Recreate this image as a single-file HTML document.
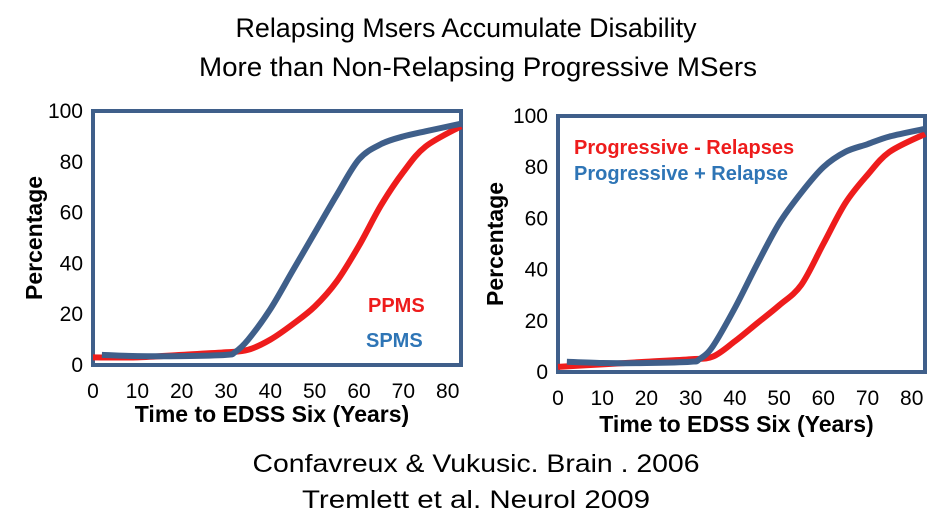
<!DOCTYPE html>
<html><head><meta charset="utf-8"><style>
html,body{margin:0;padding:0;background:#fff;}
svg{display:block;font-family:"Liberation Sans",sans-serif;}
</style></head><body>
<svg id="s" width="952" height="525" viewBox="0 0 952 525">
<text x="466" y="37" font-size="27" text-anchor="middle" textLength="461" lengthAdjust="spacingAndGlyphs">Relapsing Msers Accumulate Disability</text>
<text x="478" y="76" font-size="27" text-anchor="middle" textLength="558" lengthAdjust="spacingAndGlyphs">More than Non-Relapsing Progressive MSers</text>
<text x="476" y="472" font-size="25" text-anchor="middle" textLength="447" lengthAdjust="spacingAndGlyphs">Confavreux &amp; Vukusic. Brain . 2006</text>
<text x="476" y="508" font-size="25" text-anchor="middle" textLength="348" lengthAdjust="spacingAndGlyphs">Tremlett et al. Neurol 2009</text>
<g id="c1"></g>
<g id="c2"></g>
</svg>
<script>
const xTicks=[0,10,20,30,40,50,60,70,80];
const yTicks=[0,20,40,60,80,100];
const leftX1=[2,10,20,30,32,35,40,45,50,55,60,65,70,75,83];
const leftBlue=[4,3.5,3.5,4,5,10,22,37,52,67,81,87,90,92,95];
const leftX2=[0,10,20,30,35,40,45,50,55,60,65,70,75,83];
const leftRed=[3,3,4,5,6,10,16,23,33,47,63,76,86,94];
const rightX1=[2,10,20,30,32,35,40,45,50,55,60,65,70,75,83];
const rightBlue=[4,3.5,3.5,4,5,10,25,42,58,70,80,86,89,92,95];
const rightX2=[0,10,20,30,35,40,45,50,55,60,65,70,75,83];
const rightRed=[2,3,4,5,6,12,19,26,34,50,66,77,86,93];
const NS="http://www.w3.org/2000/svg";
function mk(p,t,a){const e=document.createElementNS(NS,t);for(const k in a)e.setAttribute(k,a[k]);p.appendChild(e);return e;}
function path(pts){let d="M"+pts[0][0]+","+pts[0][1];
 for(let i=0;i<pts.length-1;i++){const p0=pts[Math.max(0,i-1)],p1=pts[i],p2=pts[i+1],p3=pts[Math.min(pts.length-1,i+2)];
 d+=" C"+(p1[0]+(p2[0]-p0[0])/6)+","+(p1[1]+(p2[1]-p0[1])/6)+" "+(p2[0]-(p3[0]-p1[0])/6)+","+(p2[1]-(p3[1]-p1[1])/6)+" "+p2[0]+","+p2[1];}
 return d;}
function chart(g,L,R,T,B,xt,series,yLabelX,xTitleY){
 const sx=v=>L+v*(R-L)/83, sy=v=>B-v*(B-T)/100;
 mk(g,"rect",{x:L,y:T,width:R-L,height:B-T,fill:"none",stroke:"#3f5f8a","stroke-width":4});
 yTicks.forEach(v=>{const t=mk(g,"text",{x:L-10,y:sy(v)+7,"font-size":21,"text-anchor":"end"});t.textContent=v;
  
  });
 xTicks.forEach(v=>{const t=mk(g,"text",{x:sx(v),y:B+33,"font-size":21,"text-anchor":"middle"});t.textContent=v;
  
  });
 const yl=mk(g,"text",{x:0,y:0,"font-size":23,"font-weight":"bold","text-anchor":"middle",transform:"translate("+yLabelX+","+((T+B)/2)+") rotate(-90)"});yl.textContent="Percentage";
 
 
 const xl=mk(g,"text",{x:(L+R)/2-5,y:xTitleY,"font-size":23,"font-weight":"bold","text-anchor":"middle"});xl.textContent="Time to EDSS Six (Years)";
 
 
 series.forEach(s=>{const pts=s.x.map((v,i)=>[sx(v),sy(s.y[i])]);
  const p=mk(g,"path",{d:path(pts),fill:"none",stroke:s.c,"stroke-width":6,"stroke-linecap":"butt"});
  
  });
 return {sx,sy};}
const g1=document.getElementById("c1"),g2=document.getElementById("c2");
chart(g1,93,461,111,365,xTicks,[{x:leftX2,y:leftRed,c:"#ee1c1c",n:"ppms-line"},{x:leftX1,y:leftBlue,c:"#3f5f8a",n:"spms-line"}],42,422);
chart(g2,558,925,116,372,xTicks,[{x:rightX2,y:rightRed,c:"#ee1c1c",n:"progressive-minus-relapses-line"},{x:rightX1,y:rightBlue,c:"#3f5f8a",n:"progressive-plus-relapse-line"}],503,432);
function lab(g,x,y,txt,c,name){const t=mk(g,"text",{x:x,y:y,"font-size":20,"font-weight":"bold",fill:c});t.textContent=txt;
 
 }
lab(g1,368,312,"PPMS","#ee1c1c","legend-ppms");
lab(g1,366,347,"SPMS","#2e75b6","legend-spms");
lab(g2,574,154,"Progressive - Relapses","#ee1c1c","legend-progressive-minus-relapses");
lab(g2,574,180,"Progressive + Relapse","#2e75b6","legend-progressive-plus-relapse");
</script>
</body></html>
